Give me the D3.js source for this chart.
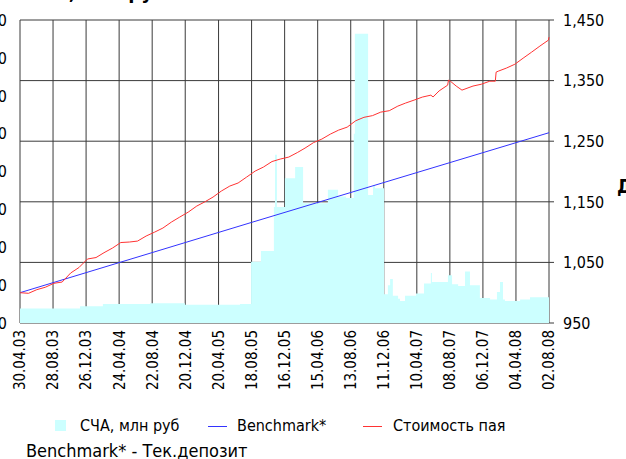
<!DOCTYPE html>
<html>
<head>
<meta charset="utf-8">
<script src="https://cdn.jsdelivr.net/npm/d3@7"></script>
<style>
  html, body { margin: 0; padding: 0; background: #fff; overflow: hidden; }
  svg { display: block; font-family: "DejaVu Sans Condensed", "DejaVu Sans", Verdana, sans-serif; }
</style>
</head>
<body>
<svg id="chart" width="626" height="459"></svg>
<script>
// ---------- data ----------
const xTickLabels = ["30.04.03","28.08.03","26.12.03","24.04.04","22.08.04","20.12.04","20.04.05","18.08.05",
  "16.12.05","15.04.06","13.08.06","11.12.06","10.04.07","08.08.07","06.12.07","04.04.08","02.08.08"];
const leftTicks = [0, 50, 100, 150, 200, 250, 300, 350, 400];
const rightTicks = [950, 1050, 1150, 1250, 1350, 1450];

// СЧА, млн руб (step values, each holds until the next date)
const navDates = ["2003-04-30","2003-12-04","2004-02-25","2004-08-14","2004-12-19","2005-07-07","2005-08-16",
  "2005-09-21","2005-11-07","2005-11-11","2005-11-18","2005-12-17","2006-01-23","2006-02-21","2006-05-22",
  "2006-06-28","2006-07-27","2006-08-24","2006-08-28","2006-10-15","2006-11-02","2006-11-09","2006-12-12",
  "2006-12-26","2007-01-03","2007-01-13","2007-02-01","2007-02-08","2007-02-26","2007-04-07","2007-05-06",
  "2007-05-31","2007-06-04","2007-08-01","2007-08-16","2007-09-07","2007-10-02","2007-10-20","2007-11-25",
  "2008-01-01","2008-01-26","2008-02-06","2008-02-17","2008-02-24","2008-04-19","2008-05-25","2008-08-02"];
const navValues = [19, 22, 25, 26, 24, 25, 81,
  95, 153, 222, 153, 191, 206, 158, 176,
  167, 165, 250, 382, 169, 182, 178, 38,
  50, 58, 36, 32, 29, 36, 39, 52,
  66, 54, 63, 51, 49, 68, 50, 33,
  31, 41, 54, 31, 29, 31, 34, 34];

// Стоимость пая
const unitDates = ["2003-04-30","2003-05-31","2003-06-30","2003-07-31","2003-08-31","2003-09-30","2003-10-31",
  "2003-11-30","2003-12-31","2004-01-31","2004-02-29","2004-03-31","2004-04-30","2004-05-31","2004-06-30",
  "2004-07-31","2004-08-31","2004-09-30","2004-10-31","2004-11-30","2004-12-31","2005-01-31","2005-02-28",
  "2005-03-31","2005-04-30","2005-05-31","2005-06-30","2005-07-31","2005-08-31","2005-09-30","2005-10-31",
  "2005-11-30","2005-12-31","2006-01-31","2006-02-28","2006-03-31","2006-04-30","2006-05-31","2006-06-30",
  "2006-07-31","2006-08-31","2006-09-30","2006-10-31","2006-11-30","2006-12-31","2007-01-31","2007-02-28",
  "2007-03-31","2007-04-30","2007-05-31","2007-06-08","2007-06-30","2007-07-31","2007-08-03","2007-08-10",
  "2007-08-31","2007-09-21","2007-10-31","2007-11-30","2007-12-31","2008-01-20","2008-01-23","2008-01-31",
  "2008-02-29","2008-03-31","2008-04-30","2008-05-31","2008-06-30","2008-07-31","2008-08-02"];
const unitValues = [1000, 999, 1005, 1009, 1015.5, 1017.6, 1032.5,
  1041.5, 1055.6, 1058, 1066, 1073.7, 1082.8, 1083.6, 1085.2,
  1093.5, 1100, 1106.7, 1116.6, 1124.8, 1133, 1143, 1149.6,
  1157.8, 1167.7, 1176, 1181, 1190.8, 1200.7, 1207.3, 1216.4,
  1220.5, 1223.8, 1231.2, 1238.6, 1247.7, 1253.5, 1261.7, 1268.3,
  1273.2, 1283.7, 1289.4, 1292.2, 1298, 1300.3, 1307.9, 1312.9,
  1317.8, 1322.8, 1326, 1323, 1333, 1342.5, 1350.8, 1349,
  1341, 1334.3, 1341, 1344, 1349, 1349, 1364, 1365.6,
  1370.6, 1377, 1387, 1397, 1407, 1416.8, 1421.7];

// Benchmark*
const benchDates = ["2003-04-30", "2005-08-18", "2008-08-02"];
const benchValues = [1000, 1116, 1264];

// ---------- layout ----------
const plot = { left: 20, right: 549, top: 20, bottom: 323 };
const svg = d3.select("#chart");

const parseTick = d3.timeParse("%d.%m.%y");
const parseISO = d3.timeParse("%Y-%m-%d");
const tickDates = xTickLabels.map(parseTick);

const x = d3.scaleTime()
  .domain([tickDates[0], tickDates[tickDates.length - 1]])
  .range([plot.left, plot.right]);
const yL = d3.scaleLinear().domain([0, 400]).range([plot.bottom, plot.top]);
const yR = d3.scaleLinear().domain([950, 1450]).range([plot.bottom, plot.top]);

const nav = navDates.map((d, i) => ({ date: parseISO(d), v: navValues[i] }));
const unit = unitDates.map((d, i) => ({ date: parseISO(d), v: unitValues[i] }));
const bench = benchDates.map((d, i) => ({ date: parseISO(d), v: benchValues[i] }));

// plot background
svg.append("rect").attr("x", plot.left).attr("y", plot.top)
  .attr("width", plot.right - plot.left).attr("height", plot.bottom - plot.top)
  .attr("fill", "#fff");

// gridlines
const grid = svg.append("g").attr("stroke", "#3a3a3a").attr("stroke-width", 1);
grid.selectAll("line.v").data(tickDates).join("line")
  .attr("x1", d => x(d)).attr("x2", d => x(d))
  .attr("y1", plot.top).attr("y2", plot.bottom);
grid.selectAll("line.h").data(rightTicks).join("line")
  .attr("x1", plot.left).attr("x2", plot.right)
  .attr("y1", d => yR(d)).attr("y2", d => yR(d));

// clip
svg.append("clipPath").attr("id", "clip").append("rect")
  .attr("x", plot.left).attr("y", plot.top)
  .attr("width", plot.right - plot.left).attr("height", plot.bottom - plot.top);

// area СЧА
const area = d3.area().curve(d3.curveStepAfter)
  .x(d => x(d.date)).y0(yL(0)).y1(d => yL(d.v));
svg.append("path").datum(nav).attr("clip-path", "url(#clip)")
  .attr("d", area).attr("fill", "#ccffff");

// lines
const lineR = d3.line().x(d => x(d.date)).y(d => yR(d.v));
svg.append("path").datum(bench).attr("d", lineR)
  .attr("fill", "none").attr("stroke", "#3333ff").attr("stroke-width", 1);
svg.append("path").datum(unit).attr("d", lineR)
  .attr("fill", "none").attr("stroke", "#ff3333").attr("stroke-width", 1);

// right axis
const rAxis = svg.append("g").attr("transform", `translate(${plot.right},0)`);
rAxis.selectAll("line").data(rightTicks).join("line")
  .attr("x1", 0).attr("x2", 5).attr("y1", d => yR(d)).attr("y2", d => yR(d))
  .attr("stroke", "#3a3a3a");
rAxis.selectAll("text").data(rightTicks).join("text")
  .attr("x", 14).attr("y", d => yR(d)).attr("dy", "0.36em")
  .attr("font-size", 16).attr("fill", "#000")
  .text(d => d3.format(",")(d));

// left axis labels (mostly cut off by the picture edge, as in the reference)
svg.append("g").selectAll("text").data(leftTicks).join("text")
  .attr("x", 7).attr("y", d => yL(d)).attr("dy", "0.36em")
  .attr("text-anchor", "end").attr("font-size", 16).attr("fill", "#000")
  .text(d => d);

// bottom axis labels
svg.append("g").selectAll("text").data(tickDates).join("text")
  .attr("transform", d => `translate(${x(d)},${plot.bottom + 7}) rotate(-90)`)
  .attr("text-anchor", "end").attr("dy", "0.36em")
  .attr("font-size", 15).attr("fill", "#000")
  .text((d, i) => xTickLabels[i]);

// titles (cut off by the picture edges, as in the reference)
svg.append("text").attr("x", 27).attr("y", -1)
  .attr("font-size", 20).attr("font-weight", "bold").attr("fill", "#000")
  .text("СЧА, млн руб");
svg.append("text").attr("x", 617).attr("y", 193)
  .attr("font-size", 19).attr("font-weight", "bold").attr("fill", "#000")
  .text("Доходность");

// legend
const lg = svg.append("g").attr("font-size", 16).attr("fill", "#000");
lg.append("rect").attr("x", 55).attr("y", 420).attr("width", 11).attr("height", 11).attr("fill", "#ccffff");
lg.append("text").attr("x", 80).attr("y", 431).text("СЧА, млн руб");
lg.append("line").attr("x1", 208).attr("x2", 227).attr("y1", 426.5).attr("y2", 426.5).attr("stroke", "#3333ff");
lg.append("text").attr("x", 237).attr("y", 431).text("Benchmark*");
lg.append("line").attr("x1", 363).attr("x2", 382).attr("y1", 426.5).attr("y2", 426.5).attr("stroke", "#ff3333");
lg.append("text").attr("x", 393).attr("y", 431).text("Стоимость пая");

svg.append("text").attr("x", 26).attr("y", 457).attr("font-size", 18).attr("fill", "#000")
  .text("Benchmark* - Тек.депозит");
</script>
</body>
</html>
